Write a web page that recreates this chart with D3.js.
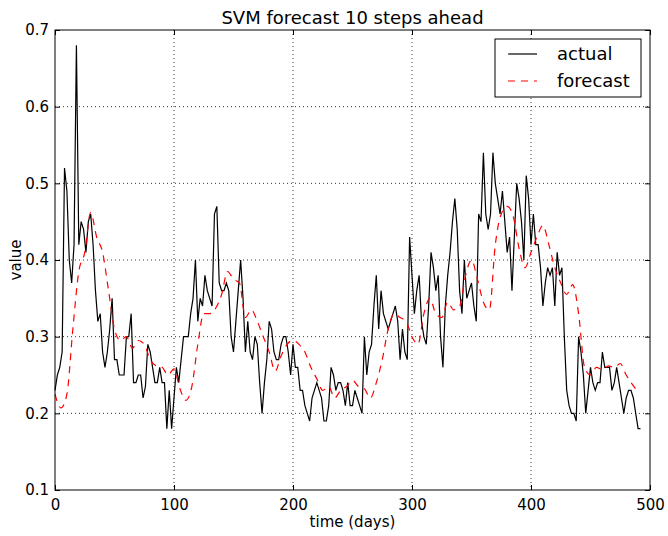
<!DOCTYPE html>
<html>
<head>
<meta charset="utf-8">
<script src="https://cdn.jsdelivr.net/npm/d3@7"></script>
<style>
  body { margin: 0; background: #fff; }
  text { font-family: "DejaVu Sans", sans-serif; fill: #000; }
</style>
</head>
<body>
<svg id="chart" width="668" height="536"></svg>
<script>
// actual series, one value every 2 days starting at day 0
const actualStep = 2;
const actual = [
  0.23, 0.25, 0.26, 0.28, 0.52, 0.49, 0.40, 0.37, 0.42, 0.68,
  0.42, 0.45, 0.44, 0.41, 0.45, 0.46, 0.42, 0.36, 0.32, 0.33,
  0.28, 0.26, 0.28, 0.31, 0.35, 0.27, 0.27, 0.25, 0.25, 0.25,
  0.30, 0.30, 0.33, 0.24, 0.24, 0.25, 0.25, 0.22, 0.235, 0.29,
  0.28, 0.26, 0.24, 0.24, 0.26, 0.24, 0.24, 0.18, 0.23, 0.18,
  0.22, 0.26, 0.24, 0.27, 0.30, 0.30, 0.30, 0.33, 0.35, 0.40,
  0.32, 0.35, 0.34, 0.38, 0.36, 0.35, 0.34, 0.46, 0.47, 0.37,
  0.36, 0.36, 0.37, 0.36, 0.30, 0.28, 0.32, 0.36, 0.40, 0.35,
  0.28, 0.32, 0.28, 0.27, 0.30, 0.29, 0.24, 0.20, 0.24, 0.27,
  0.32, 0.31, 0.28, 0.27, 0.27, 0.29, 0.30, 0.30, 0.28, 0.25,
  0.29, 0.26, 0.26, 0.23, 0.23, 0.21, 0.20, 0.19, 0.22, 0.23,
  0.24, 0.23, 0.22, 0.19, 0.19, 0.21, 0.26, 0.25, 0.23, 0.24,
  0.24, 0.23, 0.21, 0.24, 0.21, 0.21, 0.23, 0.22, 0.21, 0.20,
  0.30, 0.25, 0.28, 0.29, 0.34, 0.38, 0.31, 0.36, 0.33, 0.32,
  0.31, 0.32, 0.33, 0.34, 0.32, 0.27, 0.31, 0.28, 0.27, 0.43,
  0.38, 0.33, 0.36, 0.38, 0.32, 0.30, 0.29, 0.34, 0.41, 0.39,
  0.36, 0.38, 0.30, 0.26, 0.34, 0.38, 0.41, 0.45, 0.48, 0.44,
  0.36, 0.33, 0.40, 0.35, 0.36, 0.37, 0.34, 0.32, 0.46, 0.45,
  0.54, 0.46, 0.44, 0.46, 0.54, 0.50, 0.48, 0.46, 0.49, 0.45,
  0.41, 0.43, 0.36, 0.43, 0.50, 0.48, 0.45, 0.40, 0.51, 0.48,
  0.42, 0.46, 0.42, 0.42, 0.39, 0.34, 0.37, 0.39, 0.38, 0.39,
  0.34, 0.41, 0.38, 0.39, 0.30, 0.23, 0.21, 0.20, 0.20, 0.19,
  0.30, 0.28, 0.25, 0.20, 0.23, 0.26, 0.24, 0.23, 0.24, 0.24,
  0.28, 0.26, 0.26, 0.26, 0.23, 0.24, 0.26, 0.24, 0.22, 0.20,
  0.22, 0.23, 0.23, 0.22, 0.20, 0.18, 0.18
];

// forecast series, one value every 5 days starting at day 0
const forecastStep = 5;
const forecast = [
  0.225, 0.207, 0.225, 0.31, 0.385, 0.41, 0.462, 0.43, 0.41, 0.36,
  0.31, 0.295, 0.30, 0.285, 0.295, 0.29, 0.27, 0.262, 0.26, 0.25,
  0.258, 0.232, 0.217, 0.235, 0.29, 0.33, 0.33, 0.337, 0.355, 0.385,
  0.375, 0.37, 0.325, 0.335, 0.32, 0.30, 0.28, 0.255, 0.275, 0.29,
  0.295, 0.29, 0.28, 0.26, 0.245, 0.23, 0.235, 0.22, 0.23, 0.235,
  0.243, 0.235, 0.232, 0.22, 0.24, 0.27, 0.31, 0.33, 0.325, 0.32,
  0.30, 0.29, 0.33, 0.35, 0.33, 0.325, 0.345, 0.335, 0.34, 0.38,
  0.40, 0.375, 0.345, 0.335, 0.42, 0.46, 0.47, 0.457, 0.415, 0.39,
  0.41, 0.43, 0.445, 0.42, 0.39, 0.37, 0.355, 0.368, 0.33, 0.26,
  0.25, 0.26, 0.257, 0.262, 0.26, 0.265, 0.25, 0.238, 0.228
];

const xTicks = [0, 100, 200, 300, 400, 500];
const yTicks = [0.1, 0.2, 0.3, 0.4, 0.5, 0.6, 0.7];
const legendLabels = ["actual", "forecast"];

const margin = { left: 55, top: 30, right: 18, bottom: 46 };
const width = 668, height = 536;
const svg = d3.select("#chart");

const x = d3.scaleLinear().domain([0, 500]).range([margin.left, width - margin.right]);
const y = d3.scaleLinear().domain([0.1, 0.7]).range([height - margin.bottom, margin.top]);

const actualData = actual.map((v, i) => [i * actualStep, v]);
const forecastData = forecast.map((v, i) => [i * forecastStep, v]);

// grid
const grid = svg.append("g")
  .attr("stroke", "#000")
  .attr("stroke-width", 0.8)
  .attr("stroke-dasharray", "1,3");

grid.selectAll(".gx").data(xTicks.slice(1, -1)).enter().append("line")
  .attr("x1", (d) => x(d)).attr("x2", (d) => x(d))
  .attr("y1", y(0.7)).attr("y2", y(0.1));

grid.selectAll(".gy").data(yTicks.slice(1, -1)).enter().append("line")
  .attr("y1", (d) => y(d)).attr("y2", (d) => y(d))
  .attr("x1", x(0)).attr("x2", x(500));

// series
const line = d3.line().x((d) => x(d[0])).y((d) => y(d[1]));

svg.append("path")
  .datum(actualData)
  .attr("fill", "none")
  .attr("stroke", "#000")
  .attr("stroke-width", 1.2)
  .attr("d", line);

svg.append("path")
  .datum(forecastData)
  .attr("fill", "none")
  .attr("stroke", "#ff0000")
  .attr("stroke-width", 1.2)
  .attr("stroke-dasharray", "7,6")
  .attr("d", d3.line().curve(d3.curveMonotoneX).x((d) => x(d[0])).y((d) => y(d[1])));

// axes, ticks pointing inward like matplotlib classic
const tickLen = 5;
const styleAxis = (g) => {
  g.select(".domain").remove();
  g.selectAll(".tick line").attr("stroke", "#000");
  g.selectAll("text").style("font-size", "15px");
};

svg.append("g")
  .attr("transform", `translate(0,${y(0.1)})`)
  .call(d3.axisBottom(x).tickValues(xTicks).tickSize(-tickLen).tickPadding(9).tickFormat(d3.format("d")))
  .call(styleAxis);

svg.append("g")
  .attr("transform", `translate(0,${y(0.7)})`)
  .call(d3.axisTop(x).tickValues(xTicks).tickSize(-tickLen).tickFormat(""))
  .call(styleAxis);

svg.append("g")
  .attr("transform", `translate(${x(0)},0)`)
  .call(d3.axisLeft(y).tickValues(yTicks).tickSize(-tickLen).tickPadding(6).tickFormat(d3.format(".1f")))
  .call(styleAxis);

svg.append("g")
  .attr("transform", `translate(${x(500)},0)`)
  .call(d3.axisRight(y).tickValues(yTicks).tickSize(-tickLen).tickFormat(""))
  .call(styleAxis);

// frame
svg.append("rect")
  .attr("x", x(0)).attr("y", y(0.7))
  .attr("width", x(500) - x(0)).attr("height", y(0.1) - y(0.7))
  .attr("fill", "none").attr("stroke", "#000").attr("stroke-width", 1);

// titles
svg.append("text")
  .attr("x", (x(0) + x(500)) / 2).attr("y", 24)
  .attr("text-anchor", "middle").style("font-size", "18px")
  .text("SVM forecast 10 steps ahead");

svg.append("text")
  .attr("x", (x(0) + x(500)) / 2).attr("y", 527)
  .attr("text-anchor", "middle").style("font-size", "15px")
  .text("time (days)");

svg.append("text")
  .attr("transform", `translate(21,${(y(0.1) + y(0.7)) / 2}) rotate(-90)`)
  .attr("text-anchor", "middle").style("font-size", "15px")
  .text("value");

// legend
const legend = svg.append("g").attr("transform", "translate(495,39)");
legend.append("rect")
  .attr("width", 146).attr("height", 58)
  .attr("fill", "#fff").attr("stroke", "#000").attr("stroke-width", 1);

const legendStyles = [
  { stroke: "#000", dash: null },
  { stroke: "#ff0000", dash: "7,6" },
];

const items = legend.selectAll(".item").data(legendLabels).enter().append("g")
  .attr("transform", (d, i) => `translate(0,${15 + i * 27})`);

items.append("line")
  .attr("x1", 13).attr("x2", 42)
  .attr("stroke", (d, i) => legendStyles[i].stroke)
  .attr("stroke-width", 1.2)
  .attr("stroke-dasharray", (d, i) => legendStyles[i].dash);

items.append("text")
  .attr("x", 62).attr("dy", "0.35em")
  .style("font-size", "18px")
  .text((d) => d);
</script>
</body>
</html>
